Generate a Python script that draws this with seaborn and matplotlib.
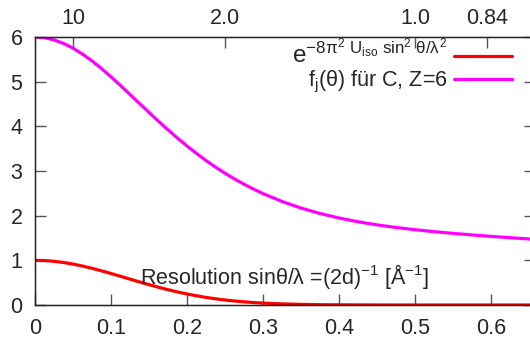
import numpy as np
import pandas as pd
import matplotlib
matplotlib.use("Agg")
import matplotlib.pyplot as plt
import seaborn as sns

# sin(theta)/lambda values and the two curves
s = [0.0, 0.0125, 0.025, 0.0375, 0.05, 0.0625, 0.075, 0.0875, 0.1, 0.1125,
     0.125, 0.1375, 0.15, 0.1625, 0.175, 0.1875, 0.2, 0.2125, 0.225, 0.2375,
     0.25, 0.2625, 0.275, 0.2875, 0.3, 0.325, 0.35, 0.375, 0.4, 0.425,
     0.45, 0.475, 0.5, 0.525, 0.55, 0.575, 0.6, 0.625, 0.65, 0.66]
f_carbon = [6.0, 5.983, 5.935, 5.856, 5.749, 5.617, 5.464, 5.292, 5.108, 4.914,
            4.713, 4.512, 4.311, 4.113, 3.921, 3.736, 3.560, 3.393, 3.235, 3.087,
            2.950, 2.822, 2.704, 2.595, 2.494, 2.318, 2.171, 2.049, 1.948, 1.864,
            1.794, 1.736, 1.686, 1.642, 1.604, 1.569, 1.537, 1.507, 1.479, 1.468]
debye_waller = [1.0, 0.995, 0.978, 0.952, 0.916, 0.872, 0.821, 0.765, 0.705, 0.642,
                0.579, 0.516, 0.455, 0.397, 0.342, 0.292, 0.247, 0.206, 0.170, 0.139,
                0.112, 0.090, 0.071, 0.055, 0.043, 0.025, 0.014, 0.007, 0.004, 0.002,
                0.001, 0.0, 0.0, 0.0, 0.0, 0.0, 0.0, 0.0, 0.0, 0.0]

# resolution d [A] shown on the top axis
top_d = [10, 2.0, 1.0, 0.84]
top_labels = ["10", "2.0", "1.0", "0.84"]

lbl_dw = r"$\mathrm{e}^{-8\pi^2\ \mathrm{U_{iso}}\ \mathrm{sin}^2\ \theta/\lambda^2}$"
lbl_f = r"f$_\mathrm{j}$(θ) für C, Z=6"

df = pd.DataFrame({"s": s, "f": f_carbon, "dw": debye_waller})

sns.set_style("ticks")
plt.rcParams["font.family"] = ["Liberation Sans", "DejaVu Sans"]
plt.rcParams["mathtext.fontset"] = "custom"
plt.rcParams["mathtext.rm"] = "Liberation Sans"
plt.rcParams["mathtext.it"] = "Liberation Sans"
fs = 15.5
plt.rcParams["font.size"] = fs

fig = plt.figure(figsize=(5.3, 3.37), dpi=100)
ax = fig.add_axes([35 / 530, 32 / 337, 500 / 530, 268 / 337])

sns.lineplot(data=df, x="s", y="dw", ax=ax, color="#ff0000", lw=2.3, label=lbl_dw)
sns.lineplot(data=df, x="s", y="f", ax=ax, color="#ff00ff", lw=2.3, label=lbl_f)

ax.set_xlim(0, 0.658)
ax.set_ylim(0, 6)
ax.set_xticks([0, 0.1, 0.2, 0.3, 0.4, 0.5, 0.6])
ax.set_xticklabels(["0", "0.1", "0.2", "0.3", "0.4", "0.5", "0.6"])
ax.set_yticks(range(7))
ax.set_xlabel("")
ax.set_ylabel("")
ax.tick_params(direction="in", length=8, width=1, color="#555555",
               labelsize=fs, right=True, top=False)
ax.tick_params(axis="x", pad=9)
ax.tick_params(axis="y", pad=9)
for sp in ax.spines.values():
    sp.set_linewidth(1)
    sp.set_color("black")

ax.text(0.328, 0.63, r"Resolution sinθ/λ =(2d)$^{-1}$ [Å$^{-1}$]",
        ha="center", va="center", fontsize=fs)

top = ax.twiny()
top.set_xlim(ax.get_xlim())
top.set_xticks([1 / (2 * d) for d in top_d])
top.set_xticklabels(top_labels)
top.tick_params(direction="in", length=8, width=1, color="#555555",
                labelsize=fs, pad=6)

leg = ax.legend(loc="upper right", frameon=False, markerfirst=False,
                handlelength=2.7, handletextpad=0.3, borderaxespad=0,
                borderpad=0, labelspacing=0.0, fontsize=fs,
                bbox_to_anchor=(0.954, 0.99))
leg.get_texts()[0].set_fontsize(17.5)

fig.savefig("out.png", dpi=100)
